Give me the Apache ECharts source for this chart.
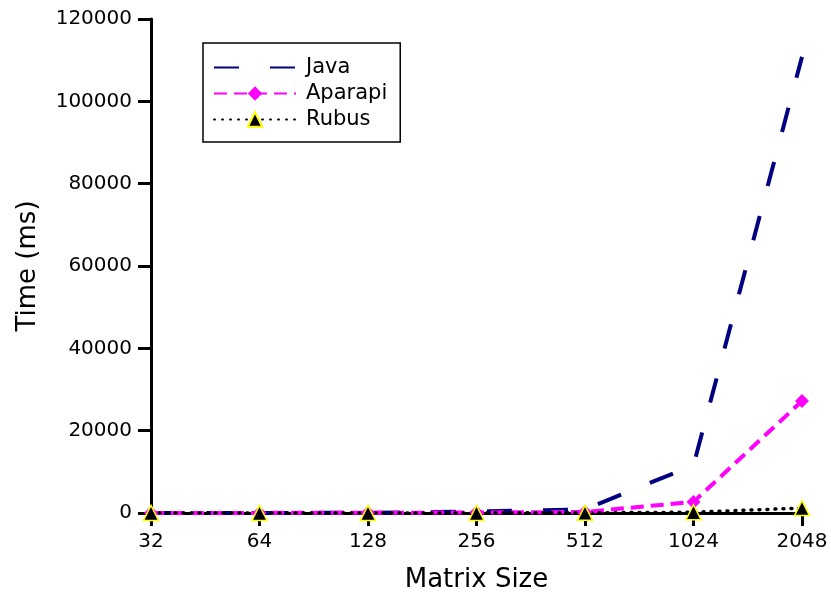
<!DOCTYPE html>
<html>
<head>
<meta charset="utf-8">
<script src="https://cdn.jsdelivr.net/npm/echarts@6/dist/echarts.min.js"></script>
<style>html,body{margin:0;padding:0;background:#fff}#c{width:831px;height:598px}</style>
</head>
<body>
<div id="c"></div>
<script>
const categories = ['32', '64', '128', '256', '512', '1024', '2048'];
const javaTimes = [2, 10, 60, 350, 900, 11600, 110800];
const aparapiTimes = [20, 30, 60, 120, 250, 2700, 27200];
const rubusTimes = [10, 15, 20, 30, 50, 180, 1200];
const yTicks = {min: 0, max: 120000, interval: 20000};

const font = 'DejaVu Sans';
const chart = echarts.init(document.getElementById('c'), null, {renderer: 'canvas'});
chart.setOption({
  animation: false,
  backgroundColor: '#fff',
  textStyle: {fontFamily: font},
  grid: {left: 151, width: 651, top: 19, height: 499, containLabel: false},
  legend: {
    orient: 'vertical',
    left: 203, top: 43,
    padding: [12, 13, 10, 10],
    itemWidth: 82, itemHeight: 18, itemGap: 1,
    borderColor: '#000', borderWidth: 1.5,
    textStyle: {fontFamily: font, fontSize: 21, lineHeight: 25, color: '#000', padding: [0, 0, 0, 5]},
    data: [
      {name: 'Java', itemStyle: {opacity: 0}},
      {name: 'Aparapi'},
      {name: 'Rubus'}
    ]
  },
  xAxis: {
    type: 'category',
    data: categories,
    boundaryGap: false,
    name: 'Matrix Size',
    nameLocation: 'middle',
    nameGap: 54,
    nameTextStyle: {fontFamily: font, fontSize: 26, color: '#000'},
    axisLine: {lineStyle: {color: '#000', width: 3}},
    axisTick: {alignWithLabel: true, length: 13, lineStyle: {color: '#000', width: 3}},
    axisLabel: {fontFamily: font, fontSize: 20, color: '#000', margin: 19},
    splitLine: {show: false}
  },
  yAxis: {
    type: 'value',
    min: yTicks.min, max: yTicks.max, interval: yTicks.interval,
    name: 'Time (ms)',
    nameLocation: 'middle',
    nameGap: 110,
    nameTextStyle: {fontFamily: font, fontSize: 26, color: '#000'},
    axisLine: {show: true, lineStyle: {color: '#000', width: 3}},
    axisTick: {show: true, length: 13, lineStyle: {color: '#000', width: 3}},
    axisLabel: {fontFamily: font, fontSize: 20, color: '#000', margin: 19, formatter: v => String(v)},
    splitLine: {show: false}
  },
  series: [
    {
      name: 'Java', type: 'line', data: javaTimes,
      showSymbol: false, symbol: 'none',
      lineStyle: {color: '#000080', width: 4, type: [25, 31]},
      itemStyle: {color: '#000080'}
    },
    {
      name: 'Aparapi', type: 'line', data: aparapiTimes,
      symbol: 'diamond', symbolSize: 14,
      lineStyle: {color: '#ff00ff', width: 4, type: [13, 7]},
      itemStyle: {color: '#ff00ff', borderWidth: 0}
    },
    {
      name: 'Rubus', type: 'line', data: rubusTimes,
      symbol: 'triangle', symbolSize: 15,
      lineStyle: {color: '#000', width: 3.5, type: [1, 7], cap: 'round'},
      itemStyle: {color: '#000', borderColor: '#ffff00', borderWidth: 1.5}
    }
  ]
});
</script>
</body>
</html>
